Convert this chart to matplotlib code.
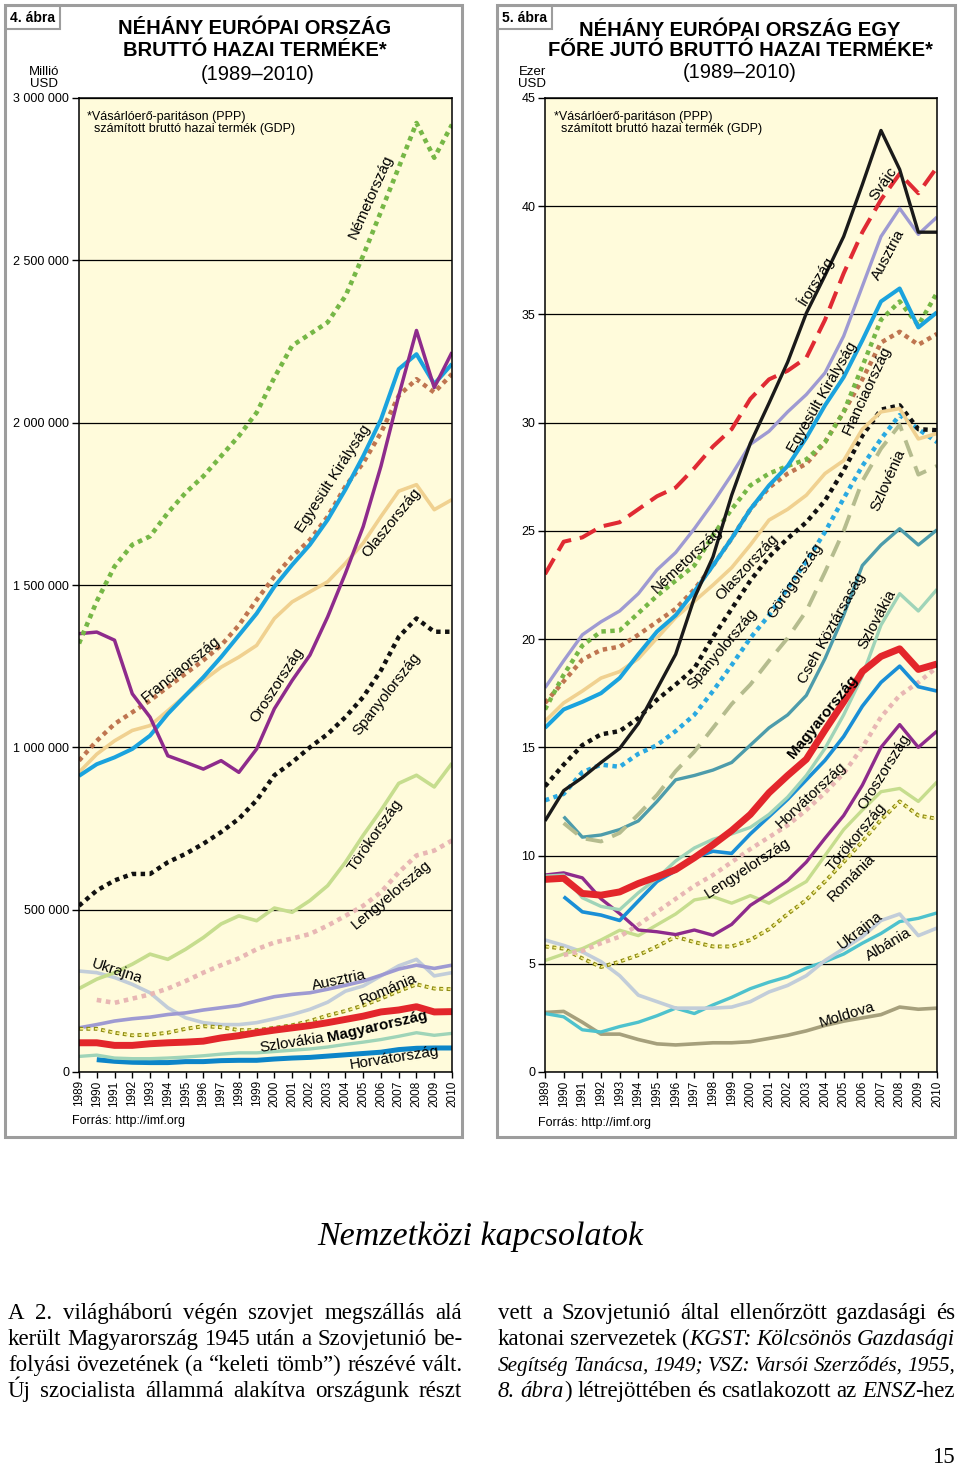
import numpy as np
import matplotlib
matplotlib.use('Agg')
import matplotlib.pyplot as plt
from matplotlib.patches import Rectangle

plt.rcParams['font.family'] = ['Liberation Sans', 'DejaVu Sans']

nan = np.nan
years = list(range(1989, 2011))

# --- 4. ábra: GDP (PPP), millió USD ---
gdp_germany = [1320000, 1450000, 1557000, 1624000, 1650000, 1722000, 1784000, 1835000, 1897000, 1959000, 2031000,
               2139000, 2237000, 2273000, 2309000, 2390000, 2515000, 2650000, 2786000, 2923000, 2816000, 2918000]
gdp_france = [959000, 1020000, 1072000, 1108000, 1144000, 1186000, 1227000, 1268000, 1314000, 1376000, 1454000,
              1526000, 1588000, 1639000, 1711000, 1804000, 1876000, 1969000, 2083000, 2134000, 2093000, 2150000]
gdp_uk = [912000, 948000, 969000, 995000, 1036000, 1103000, 1160000, 1216000, 1278000, 1345000, 1412000,
          1495000, 1562000, 1624000, 1701000, 1794000, 1897000, 2010000, 2165000, 2211000, 2119000, 2181000]
gdp_russia = [1350000, 1355000, 1330000, 1165000, 1093000, 974000, 954000, 933000, 959000, 923000, 995000,
              1119000, 1206000, 1284000, 1402000, 1536000, 1680000, 1866000, 2083000, 2284000, 2108000, 2217000]
gdp_italy = [923000, 979000, 1020000, 1052000, 1067000, 1113000, 1160000, 1206000, 1247000, 1278000, 1314000,
             1397000, 1448000, 1479000, 1510000, 1567000, 1629000, 1711000, 1789000, 1809000, 1732000, 1763000]
gdp_spain = [512000, 559000, 590000, 610000, 610000, 646000, 672000, 703000, 739000, 780000, 837000,
             914000, 954000, 1000000, 1041000, 1093000, 1155000, 1237000, 1340000, 1397000, 1356000, 1356000]
gdp_turkey = [257000, 286000, 306000, 332000, 363000, 347000, 378000, 414000, 456000, 481000, 466000,
              505000, 492000, 528000, 574000, 646000, 729000, 806000, 889000, 914000, 878000, 951000]
gdp_poland = [nan, 222000, 213000, 226000, 239000, 257000, 280000, 306000, 329000, 350000, 378000,
              399000, 411000, 425000, 451000, 481000, 512000, 554000, 615000, 667000, 682000, 713000]
gdp_ukraine = [311000, 306000, 291000, 270000, 244000, 198000, 167000, 152000, 146000, 146000, 152000,
               164000, 177000, 193000, 215000, 249000, 265000, 296000, 327000, 347000, 296000, 306000]
gdp_austria = [136000, 146000, 157000, 164000, 169000, 177000, 182000, 191000, 198000, 205000, 219000,
               232000, 239000, 244000, 255000, 267000, 280000, 298000, 317000, 329000, 319000, 329000]
gdp_romania = [133000, 133000, 121000, 113000, 115000, 121000, 133000, 141000, 138000, 129000, 129000,
               136000, 144000, 157000, 174000, 188000, 205000, 226000, 249000, 270000, 257000, 255000]
gdp_hungary = [90000, 90000, 82000, 82000, 87000, 90000, 92000, 95000, 105000, 112000, 121000,
               129000, 136000, 143000, 152000, 162000, 172000, 185000, 191000, 201000, 185000, 186000]
gdp_slovakia = [48000, 52000, 43000, 41000, 41000, 43000, 46000, 50000, 55000, 59000, 59000,
                63000, 67000, 71000, 77000, 85000, 92000, 100000, 110000, 121000, 113000, 119000]
gdp_croatia = [nan, 38000, 33000, 30000, 29000, 29000, 32000, 32000, 35000, 36000, 36000,
               40000, 43000, 45000, 49000, 53000, 57000, 61000, 69000, 73000, 74000, 74000]

# --- 5. ábra: egy főre jutó GDP (PPP), ezer USD ---
pc_ireland = [11.6, 13.0, 13.6, 14.3, 14.95, 16.1, 17.7, 19.3, 21.9, 23.8, 26.65,
              29.05, 30.9, 32.8, 35.06, 36.8, 38.6, 41.0, 43.5, 41.7, 38.8, 38.8]
pc_switzerland = [23.0, 24.5, 24.7, 25.2, 25.4, 26.0, 26.6, 27.0, 27.9, 28.9, 29.7,
                  31.1, 32.0, 32.4, 33.0, 34.75, 36.9, 38.8, 40.3, 41.5, 40.6, 41.8]
pc_austria = [17.75, 19.0, 20.2, 20.8, 21.3, 22.1, 23.2, 24.0, 25.1, 26.3, 27.6,
              29.0, 29.6, 30.5, 31.3, 32.3, 34.0, 36.3, 38.6, 39.9, 38.7, 39.5]
pc_uk = [15.9, 16.75, 17.1, 17.5, 18.2, 19.3, 20.35, 21.1, 22.2, 23.4, 24.65,
         26.0, 27.1, 28.0, 29.3, 30.8, 32.1, 33.8, 35.6, 36.2, 34.4, 35.1]
pc_germany = [16.75, 18.35, 19.7, 20.35, 20.4, 21.2, 22.0, 22.7, 23.4, 24.8, 26.0,
              27.1, 27.65, 28.0, 28.3, 29.1, 30.5, 32.6, 34.75, 35.6, 34.5, 36.0]
pc_france = [17.05, 18.05, 19.05, 19.5, 19.65, 20.2, 20.8, 21.4, 22.3, 23.4, 24.65,
             26.0, 27.0, 27.65, 28.1, 29.1, 30.5, 32.0, 33.7, 34.2, 33.6, 34.1]
pc_italy = [16.2, 17.05, 17.6, 18.2, 18.5, 19.1, 20.05, 21.0, 21.75, 22.5, 23.3,
            24.35, 25.5, 26.0, 26.65, 27.65, 28.25, 29.7, 30.5, 30.65, 29.25, 29.5]
pc_spain = [13.2, 14.2, 15.1, 15.6, 15.75, 16.35, 17.2, 17.9, 18.65, 20.1, 21.4,
            22.7, 23.8, 24.65, 25.4, 26.4, 27.8, 29.4, 30.6, 30.8, 29.7, 29.65]
pc_greece = [12.55, 12.85, 13.85, 14.2, 14.1, 14.7, 15.1, 15.75, 16.5, 17.6, 18.8,
             20.05, 21.1, 22.35, 23.6, 24.95, 26.5, 28.0, 29.25, 30.35, 29.7, 29.1]
pc_slovenia = [nan, 11.5, 10.8, 10.65, 11.05, 11.9, 12.8, 13.9, 14.8, 15.9, 17.0,
               17.9, 19.0, 20.05, 21.3, 23.1, 25.0, 27.3, 28.8, 29.9, 27.6, 28.0]
pc_czech = [nan, 11.8, 10.85, 10.95, 11.2, 11.6, 12.5, 13.5, 13.7, 13.95, 14.3,
            15.1, 15.9, 16.5, 17.4, 19.1, 21.1, 23.4, 24.35, 25.1, 24.35, 25.05]
pc_slovakia = [9.05, 9.1, 8.05, 7.65, 7.5, 8.28, 8.95, 9.75, 10.35, 10.75, 11.0,
               11.3, 11.9, 12.7, 13.7, 14.95, 16.5, 18.3, 20.65, 22.1, 21.3, 22.3]
pc_hungary = [8.9, 8.95, 8.25, 8.17, 8.32, 8.71, 9.02, 9.35, 9.9, 10.5, 11.15,
              11.9, 12.9, 13.7, 14.45, 15.8, 17.1, 18.5, 19.2, 19.55, 18.6, 18.85]
pc_croatia = [nan, 8.1, 7.4, 7.25, 7.0, 7.9, 8.8, 9.3, 9.9, 10.2, 10.1,
              11.0, 11.8, 12.6, 13.5, 14.4, 15.5, 16.9, 18.0, 18.75, 17.8, 17.6]
pc_poland = [nan, 5.4, 5.6, 5.95, 6.25, 6.8, 7.4, 8.0, 8.6, 9.1, 9.7,
             10.3, 10.85, 11.4, 12.1, 12.9, 13.8, 15.0, 16.4, 17.4, 18.0, 18.7]
pc_russia = [9.1, 9.2, 8.97, 8.0, 7.32, 6.56, 6.48, 6.35, 6.56, 6.32, 6.82,
             7.7, 8.25, 8.85, 9.7, 10.8, 11.85, 13.25, 15.0, 16.05, 15.0, 15.75]
pc_turkey = [5.15, 5.45, 5.7, 6.1, 6.55, 6.3, 6.8, 7.3, 7.95, 8.1, 7.8,
             8.15, 7.8, 8.3, 8.8, 10.0, 11.2, 12.1, 12.95, 13.1, 12.5, 13.4]
pc_romania = [5.8, 5.7, 5.25, 4.85, 5.1, 5.4, 5.8, 6.25, 6.0, 5.8, 5.8,
              6.1, 6.6, 7.3, 7.95, 8.8, 9.7, 10.65, 11.65, 12.5, 11.85, 11.7]
pc_ukraine = [6.1, 5.85, 5.55, 5.1, 4.45, 3.55, 3.25, 2.95, 2.95, 2.95, 3.0,
              3.25, 3.7, 4.0, 4.45, 5.15, 5.7, 6.25, 7.0, 7.3, 6.3, 6.65]
pc_albania = [2.7, 2.55, 1.95, 1.85, 2.1, 2.3, 2.6, 2.95, 2.7, 3.1, 3.45,
              3.85, 4.15, 4.4, 4.8, 5.1, 5.45, 5.95, 6.4, 6.95, 7.1, 7.35]
pc_moldova = [2.75, 2.8, 2.3, 1.75, 1.75, 1.5, 1.3, 1.25, 1.3, 1.35, 1.35,
              1.4, 1.55, 1.7, 1.9, 2.15, 2.35, 2.5, 2.65, 3.0, 2.9, 2.95]

left_yticks = [0, 500000, 1000000, 1500000, 2000000, 2500000, 3000000]
right_yticks = [0, 5, 10, 15, 20, 25, 30, 35, 40, 45]

# feliratok: (szöveg, év, érték, szög, félkövér)
left_labels = [
    ('Németország', 2005.44, 2695000, 66, False),
    ('Egyesült Királyság', 2003.3, 1826000, 57, False),
    ('Olaszország', 2006.6, 1691000, 51, False),
    ('Franciaország', 1994.75, 1241000, 39, False),
    ('Oroszország', 2000.15, 1192000, 57, False),
    ('Spanyolország', 2006.3, 1165000, 52, False),
    ('Törökország', 2005.67, 730000, 55, False),
    ('Lengyelország', 2006.6, 545000, 40, False),
    ('Ukrajna', 1991.14, 311000, -18, False),
    ('Ausztria', 2003.64, 283000, 12, False),
    ('Románia', 2006.4, 253000, 23, False),
    ('Magyarország', 2005.78, 139000, 13, True),
    ('Szlovákia', 2000.99, 89000, 9, False),
    ('Horvátország', 2006.74, 43000, 9, False),
]
right_labels = [
    ('Svájc', 2007.1, 41.06, 55, False),
    ('Írország', 2003.5, 36.58, 58, False),
    ('Ausztria', 2007.4, 37.74, 62, False),
    ('Egyesült Királyság', 2003.84, 31.18, 60, False),
    ('Franciaország', 2006.25, 31.5, 65, False),
    ('Szlovénia', 2007.4, 27.34, 66, False),
    ('Németország', 1996.6, 23.65, 43, False),
    ('Olaszország', 1999.8, 23.33, 47, False),
    ('Görögország', 2002.4, 22.68, 56, False),
    ('Spanyolország', 1998.5, 19.54, 50, False),
    ('Cseh Köztársaság', 2004.4, 20.5, 61, False),
    ('Szlovákia', 2006.8, 20.92, 62, False),
    ('Magyarország', 2003.9, 16.4, 51, True),
    ('Horvátország', 2003.25, 12.79, 43, False),
    ('Oroszország', 2007.16, 13.86, 58, False),
    ('Lengyelország', 1999.87, 9.42, 33, False),
    ('Törökország', 2005.66, 10.85, 50, False),
    ('Románia', 2005.4, 8.96, 45, False),
    ('Ukrajna', 2005.87, 6.56, 38, False),
    ('Albánia', 2007.42, 5.87, 31, False),
    ('Moldova', 2005.18, 2.63, 17, False),
]

left_text = [
    'A 2. világháború végén szovjet megszállás alá',
    'került Magyarország 1945 után a Szovjetunió be-',
    'folyási övezetének (a “keleti tömb”) részévé vált.',
    'Új szocialista állammá alakítva országunk részt',
]
right_text = [
    'vett a Szovjetunió által ellenőrzött gazdasági és',
    'katonai szervezetek (*KGST: Kölcsönös Gazdasági',
    'Segítség Tanácsa, 1949; VSZ: Varsói Szerződés, 1955,',
    '8. ábra*) létrejöttében és csatlakozott az *ENSZ*-hez',
]

W, H = 960, 1466
fig = plt.figure(figsize=(W / 100, H / 100), dpi=100)


def fx(x):
    return x / W


def fy(y):
    return 1 - y / H


CREAM = '#fffbdb'
GREY = '#9d9d9d'


def frame_panel(x0, x1, tag, tag_x):
    fig.patches.append(Rectangle((fx(x0), fy(1137)), (x1 - x0) / W, (1137 - 5) / H,
                                 transform=fig.transFigure, fill=False, ec=GREY, lw=2.2))
    fig.text(fx(tag_x), fy(17.5), tag, ha='center', va='center', fontsize=10, fontweight='bold',
             bbox=dict(boxstyle='square,pad=0.3', fc='white', ec=GREY, lw=1.5))


def setup_axes(x0, x1, ymax, ticks, fmt):
    ax = fig.add_axes([fx(x0), fy(1072), (x1 - x0) / W, (1072 - 98) / H])
    ax.set_facecolor(CREAM)
    ax.set_xlim(1989, 2010)
    ax.set_ylim(0, ymax)
    ax.set_yticks(ticks)
    ax.set_yticklabels([fmt(t) for t in ticks])
    ax.set_xticks(years)
    ax.set_xticklabels([str(y) for y in years], rotation=90)
    ax.tick_params(axis='y', direction='out', length=5, width=1, labelsize=9, pad=2)
    ax.tick_params(axis='x', direction='out', length=4, width=1, labelsize=8.5, pad=2)
    ax.yaxis.grid(True, color='black', lw=0.9)
    ax.set_axisbelow(True)
    for s in ax.spines.values():
        s.set_color('black')
        s.set_linewidth(1.1)
    return ax


def line(ax, vals, color, lw, ls='-'):
    ax.plot(years, vals, color=color, lw=lw, ls=ls, solid_joinstyle='round',
            solid_capstyle='butt', dash_capstyle='butt', dash_joinstyle='round')


def dotted(ax, vals, color, lw=3.2):
    line(ax, vals, color, lw, (0, (1, 1.0)))


def squares(ax, vals, lw=2.8):
    period = lw * 1.9
    ax.plot(years, vals, color='#8e8b12', lw=lw, ls=(0, (1, 0.9)), dash_capstyle='butt')
    inner = 1.2
    ax.plot(years, vals, color='#f5ef8f', lw=inner,
            ls=((period - (lw - inner) / 2) / inner, (lw / inner, (period - lw) / inner)),
            dash_capstyle='butt')


def labels(ax, items):
    for txt, x, y, rot, bold in items:
        ax.text(x, y, txt, rotation=rot, rotation_mode='anchor', ha='center', va='center',
                fontsize=11, fontweight='bold' if bold else 'normal', zorder=10)


def space_fmt(v):
    return '{:,}'.format(int(v)).replace(',', ' ')


# ---------------- 4. ábra ----------------
frame_panel(5, 462, '4. ábra', 33)
fig.text(fx(255), fy(28), 'NÉHÁNY EURÓPAI ORSZÁG', ha='center', va='center', fontsize=14.5, fontweight='bold')
fig.text(fx(255), fy(50), 'BRUTTÓ HAZAI TERMÉKE*', ha='center', va='center', fontsize=14.5, fontweight='bold')
fig.text(fx(258), fy(75), '(1989–2010)', ha='center', va='center', fontsize=14.5)
fig.text(fx(44), fy(72), 'Millió', ha='center', va='center', fontsize=9.5)
fig.text(fx(44), fy(84), 'USD', ha='center', va='center', fontsize=9.5)

ax1 = setup_axes(79, 452, 3000000, left_yticks, space_fmt)
ax1.text(0.022, 0.987, '*Vásárlóerő-paritáson (PPP)\n  számított bruttó hazai termék (GDP)',
         transform=ax1.transAxes, ha='left', va='top', fontsize=9, linespacing=1.0)

line(ax1, gdp_croatia, '#0c85c8', 3.6)
line(ax1, gdp_slovakia, '#9fd4b8', 2.4)
line(ax1, gdp_ukraine, '#c2cdd9', 2.6)
line(ax1, gdp_austria, '#9e9ad2', 2.6)
squares(ax1, gdp_romania)
line(ax1, gdp_hungary, '#e3262b', 5.0)
dotted(ax1, gdp_poland, '#e8b7b4', 3.3)
line(ax1, gdp_turkey, '#c6dd8e', 2.6)
dotted(ax1, gdp_spain, '#111111')
line(ax1, gdp_italy, '#f0d190', 2.6)
dotted(ax1, gdp_france, '#bf7550')
line(ax1, gdp_uk, '#1aa3de', 2.9)
line(ax1, gdp_russia, '#8e2b8c', 2.5)
dotted(ax1, gdp_germany, '#76b746', 3.3)
labels(ax1, left_labels)
fig.text(fx(72), fy(1121), 'Forrás: http://imf.org', ha='left', va='center', fontsize=9)

# ---------------- 5. ábra ----------------
frame_panel(497, 955, '5. ábra', 525)
fig.text(fx(740), fy(30), 'NÉHÁNY EURÓPAI ORSZÁG EGY', ha='center', va='center', fontsize=14.5, fontweight='bold')
fig.text(fx(740), fy(50), 'FŐRE JUTÓ BRUTTÓ HAZAI TERMÉKE*', ha='center', va='center', fontsize=14.5,
         fontweight='bold')
fig.text(fx(740), fy(72), '(1989–2010)', ha='center', va='center', fontsize=14.5)
fig.text(fx(532), fy(72), 'Ezer', ha='center', va='center', fontsize=9.5)
fig.text(fx(532), fy(84), 'USD', ha='center', va='center', fontsize=9.5)

ax2 = setup_axes(545, 937, 45, right_yticks, lambda v: str(int(v)))
ax2.text(0.022, 0.987, '*Vásárlóerő-paritáson (PPP)\n  számított bruttó hazai termék (GDP)',
         transform=ax2.transAxes, ha='left', va='top', fontsize=9, linespacing=1.0)

line(ax2, pc_moldova, '#a6a07c', 2.6)
line(ax2, pc_albania, '#4ec2cd', 2.4)
line(ax2, pc_ukraine, '#c2cdd9', 2.6)
squares(ax2, pc_romania)
line(ax2, pc_turkey, '#c6dd8e', 2.4)
line(ax2, pc_russia, '#8e2b8c', 2.4)
dotted(ax2, pc_poland, '#e8b7b4', 3.2)
line(ax2, pc_croatia, '#1a8fd6', 2.6)
line(ax2, pc_slovakia, '#9fd4b8', 2.4)
line(ax2, pc_hungary, '#e3262b', 5.0)
line(ax2, pc_czech, '#4d9cab', 2.4)
line(ax2, pc_slovenia, '#b5bc8e', 2.8, (0, (4.5, 2.6)))
dotted(ax2, pc_greece, '#2aa9e1')
dotted(ax2, pc_spain, '#111111')
line(ax2, pc_italy, '#f0d190', 2.6)
dotted(ax2, pc_france, '#bf7550')
dotted(ax2, pc_germany, '#76b746')
line(ax2, pc_uk, '#1aa3de', 2.9)
line(ax2, pc_austria, '#9e9ad2', 2.4)
line(ax2, pc_switzerland, '#e02a33', 2.9, (0, (4.5, 2.2)))
line(ax2, pc_ireland, '#1a1a1a', 2.4)
labels(ax2, right_labels)
fig.text(fx(538), fy(1123), 'Forrás: http://imf.org', ha='left', va='center', fontsize=9)

# ---------------- szöveg ----------------
SERIF = ['Liberation Serif', 'DejaVu Serif']
fig.text(fx(480), fy(1237), 'Nemzetközi kapcsolatok', ha='center', va='center', fontsize=24.5,
         style='italic', family=SERIF)

renderer = fig.canvas.get_renderer()


def justified(lines, x0, x1, y0, dy, size, min_gap=4.5):
    ital = False
    for i, ln in enumerate(lines):
        words = []
        for w in ln.split(' '):
            segs = []
            for k, part in enumerate(w.split('*')):
                if k > 0:
                    ital = not ital
                if part:
                    segs.append(fig.text(0, 0, part, family=SERIF, fontsize=size, va='baseline',
                                         style='italic' if ital else 'normal'))
            words.append(segs)
        n = len(words) - 1
        total = sum(t.get_window_extent(renderer).width for w in words for t in w)
        if x1 - x0 - total < min_gap * n:
            # a túl hosszú sort kicsit kisebb betűvel szedjük
            scale = (x1 - x0 - min_gap * n) / total
            for w in words:
                for t in w:
                    t.set_fontsize(size * scale)
        widths = [[t.get_window_extent(renderer).width for t in w] for w in words]
        total = sum(sum(ws) for ws in widths)
        gap = (x1 - x0 - total) / n
        x = x0
        for segs, ws in zip(words, widths):
            for t, wd in zip(segs, ws):
                t.set_position((fx(x), fy(y0 + i * dy)))
                x += wd
            x += gap


justified(left_text, 8, 462, 1319, 26, 16.5)
justified(right_text, 498, 955, 1319, 26, 16.5)
fig.text(fx(955), fy(1463), '15', ha='right', va='baseline', fontsize=16.5, family=SERIF)

fig.savefig('out.png', dpi=100)
